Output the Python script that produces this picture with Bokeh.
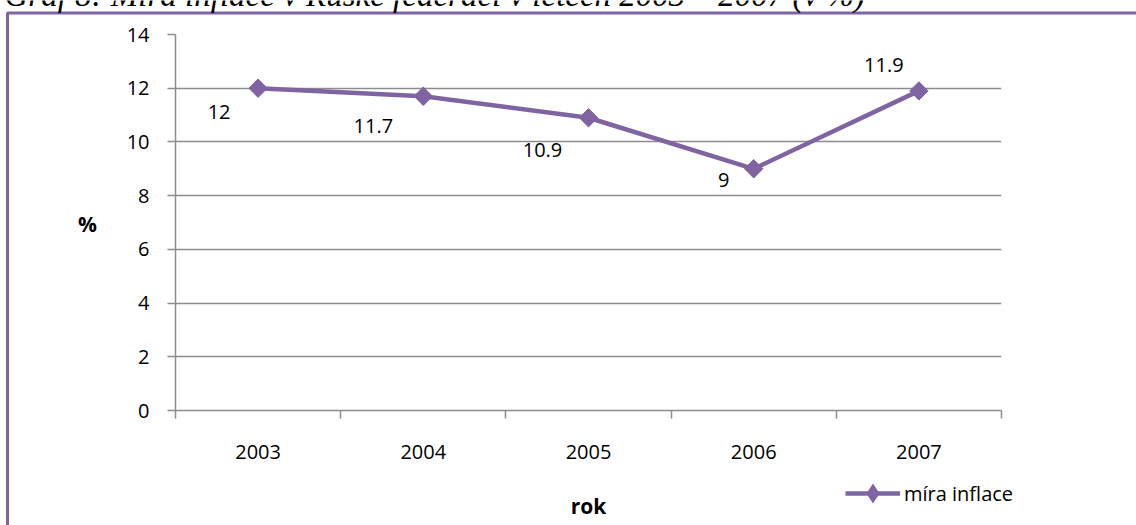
import numpy as np
from bokeh.plotting import figure
from bokeh.models import (ColumnDataSource, Range1d, FixedTicker, Label, Legend,
                          LegendItem, BoxAnnotation)
from bokeh.core.properties import value
from bokeh.embed import file_html
from bokeh.resources import INLINE

# ---- data ----
years = ["2003", "2004", "2005", "2006", "2007"]
inflation = [12, 11.7, 10.9, 9, 11.9]
series_name = "míra inflace"
y_ticks = [0, 2, 4, 6, 8, 10, 12, 14]
title_text = "Graf 8: Míra inflace v Ruské federaci v letech 2003 – 2007 (v %)"
x_axis_title = "rok"
y_axis_title = "%"

# data-label offsets (screen px) relative to each point
label_dx = [-39, -50, -46, -30, -35]
label_dy = [24, 30, 32, 11, -26]

PURPLE = "#8064A2"
GRAY = "#8C8C8C"
FONT = "Open Sans"
W, H = 1136, 525
OVERLAY = {"position": "absolute", "top": "0px", "left": "0px"}

# ---------- background layer: frame, title, '%' and legend ----------
bg = figure(width=W, height=H, output_backend="svg", toolbar_location=None,
            x_range=Range1d(0, W), y_range=Range1d(H, 0),
            min_border=0, x_axis_location=None, y_axis_location=None)
bg.styles = OVERLAY
bg.grid.visible = False
bg.outline_line_color = None
bg.background_fill_color = "white"
bg.border_fill_color = "white"

bg.add_layout(BoxAnnotation(left=7, right=W + 50, top=12.5, bottom=H + 50,
                            fill_color=None, fill_alpha=0,
                            line_color=PURPLE, line_alpha=1, line_width=3))
bg.add_layout(Label(x=4, y=-6, text=title_text,
                    text_font="Liberation Serif", text_font_size="33px",
                    text_font_style="italic", text_baseline="alphabetic",
                    text_color="black"))
bg.add_layout(Label(x=87, y=223, text=y_axis_title,
                    text_font=FONT, text_font_size="21px", text_font_style="bold",
                    text_align="center", text_baseline="middle", text_color="black"))

# legend proxies (kept outside the visible area of this layer)
lg_src = ColumnDataSource(dict(x=[-1000, -999], y=[-1000, -1000]))
lg_line = bg.line("x", "y", source=lg_src, line_color=PURPLE, line_width=4.5)
lg_pts = bg.scatter("x", "y", source=lg_src, marker="diamond", size=13,
                    fill_color=PURPLE, line_color=PURPLE, line_width=3,
                    line_join="miter")
legend = Legend(items=[LegendItem(label=series_name, renderers=[lg_line, lg_pts])],
                location=(845, 14), glyph_width=55, glyph_height=36,
                padding=0, margin=0, spacing=0, label_standoff=4,
                border_line_color=None, background_fill_alpha=0,
                label_text_font=FONT, label_text_font_size="20px",
                label_text_color="black")
bg.add_layout(legend, "center")

# ---------- chart layer ----------
xs = list(range(1, len(years) + 1))
src = ColumnDataSource(dict(x=xs, y=inflation,
                            lbl=[f"{v:g}" for v in inflation],
                            dx=label_dx, dy=label_dy))

p = figure(width=W, height=H, output_backend="svg", toolbar_location=None,
           x_range=Range1d(0.5, len(years) + 0.5), y_range=Range1d(0, 14),
           min_border_left=175, min_border_right=135,
           min_border_top=34, min_border_bottom=115)
p.styles = OVERLAY
p.outline_line_color = None
p.background_fill_alpha = 0
p.border_fill_alpha = 0

# x axis
p.xaxis.ticker = FixedTicker(ticks=xs, minor_ticks=[i + 0.5 for i in range(len(years) + 1)])
p.xaxis.major_label_overrides = {x: y for x, y in zip(xs, years)}
p.xaxis.major_tick_out = 0
p.xaxis.major_tick_in = 0
p.xaxis.minor_tick_out = 8
p.xaxis.minor_tick_in = 0
p.xaxis.minor_tick_line_color = GRAY
p.xaxis.minor_tick_line_width = 1.5
p.xaxis.axis_line_color = GRAY
p.xaxis.axis_line_width = 1.5
p.xaxis.major_label_standoff = 26
p.xaxis.major_label_text_font = FONT
p.xaxis.major_label_text_font_size = "20px"
p.xaxis.major_label_text_color = "black"
p.xaxis.axis_label = x_axis_title
p.xaxis.axis_label_text_font = FONT
p.xaxis.axis_label_text_font_size = "21px"
p.xaxis.axis_label_text_font_style = "bold"
p.xaxis.axis_label_text_color = "black"
p.xaxis.axis_label_standoff = 30

# y axis
p.yaxis.ticker = FixedTicker(ticks=y_ticks)
p.yaxis.major_tick_out = 8
p.yaxis.major_tick_in = 0
p.yaxis.major_tick_line_color = GRAY
p.yaxis.major_tick_line_width = 1.5
p.yaxis.minor_tick_line_color = None
p.yaxis.axis_line_color = GRAY
p.yaxis.axis_line_width = 1.5
p.yaxis.major_label_standoff = 18
p.yaxis.major_label_text_font = FONT
p.yaxis.major_label_text_font_size = "20px"
p.yaxis.major_label_text_color = "black"

p.xgrid.visible = False
p.ygrid.grid_line_color = GRAY
p.ygrid.grid_line_width = 1.5

p.line("x", "y", source=src, line_color=PURPLE, line_width=4.5)
p.scatter("x", "y", source=src, marker="square", angle=np.pi / 4, size=13,
          fill_color=PURPLE, line_color=PURPLE)
p.text("x", "y", text="lbl", x_offset="dx", y_offset="dy", source=src,
       text_font=value(FONT), text_font_size="20px", text_align="center",
       text_baseline="middle", text_color="black")

open("out.html", "w").write(file_html([bg, p], INLINE))
